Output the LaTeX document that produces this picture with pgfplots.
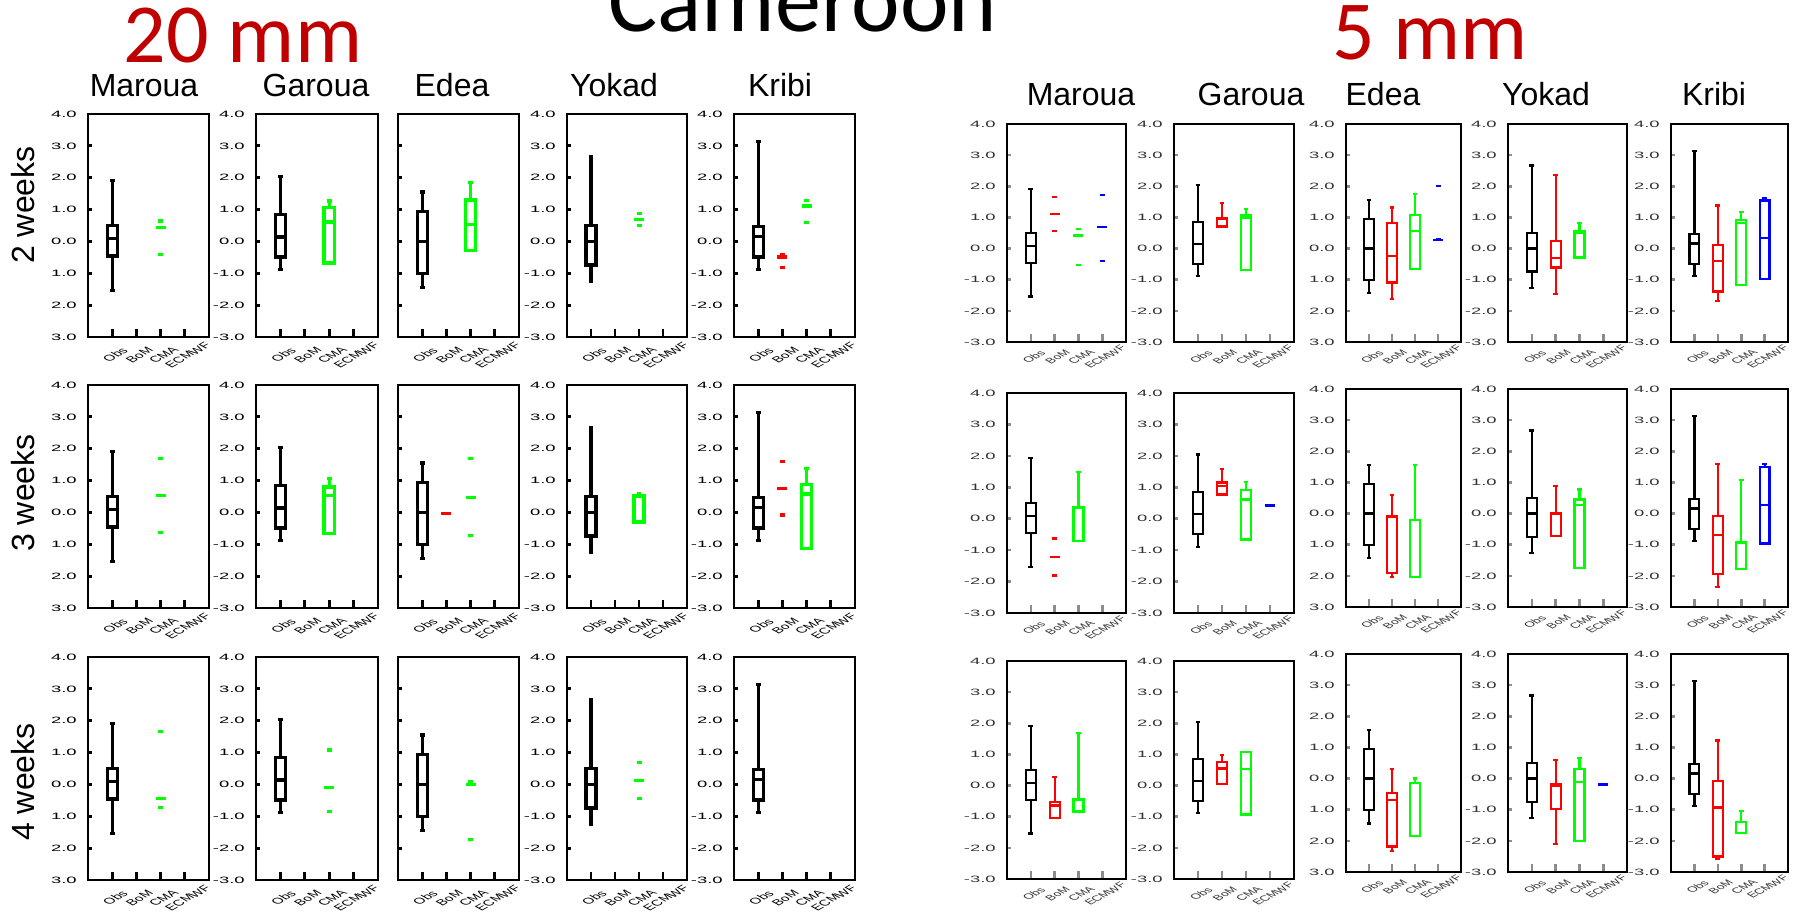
\documentclass[border=0pt]{standalone}
\usepackage{fontspec}
\setmainfont{Liberation Sans}
\newfontfamily\titlefont{Carlito}
\usepackage{graphicx}
\usepackage{pgfplots}
\pgfplotsset{compat=1.18}
\usepgfplotslibrary{statistics}

\definecolor{bom}{RGB}{255,0,0}
\definecolor{cma}{RGB}{0,255,0}
\definecolor{ecm}{RGB}{0,0,255}
\definecolor{titlered}{RGB}{192,0,0}

% stretched tick labels of the small panels
\newcommand{\xl}[1]{\scalebox{1.8}[1]{\rotatebox{45}{\fontsize{4.2}{5}\selectfont #1}}}
\newcommand{\xr}[1]{\scalebox{1.8}[1]{\rotatebox{45}{\fontsize{3.8}{4.5}\selectfont #1}}}
\newcommand{\yl}[1]{\scalebox{2}[1]{\fontsize{4.6}{5}\selectfont #1}}

% box: position, colour, lower whisker, lower quartile, median, upper quartile, upper whisker
\newcommand{\bx}[7]{\addplot[draw=#2, solid, line width=\bxw,
  boxplot prepared={draw direction=y, draw position=#1, lower whisker=#3, lower quartile=#4,
  median=#5, upper quartile=#6, upper whisker=#7}] coordinates {};}
% short and wide dashes (collapsed members)
\newcommand{\ds}[3]{\addplot[only marks, mark=-, mark size=1.25pt, draw=#2,
  mark options={line width=\bxw, solid}] coordinates {(#1,#3)};}
\newcommand{\dw}[3]{\addplot[only marks, mark=-, mark size=2.5pt, draw=#2,
  mark options={line width=\bxw, solid}] coordinates {(#1,#3)};}

\pgfplotsset{
  panel/.style={scale only axis, anchor=north west, clip=false,
    xmin=0, xmax=5, ymin=-3, ymax=4,
    xtick={1,2,3,4}, ytick={-3,-2,-1,0,1,2,3,4},
    tick align=inside, xtick pos=left, ytick pos=left,
    major tick length=2pt, xtick style={/pgfplots/major tick length=4pt},
    yticklabel style={anchor=east, inner sep=0pt, xshift=-5.5pt},
    xticklabel style={anchor=center, inner sep=0pt, xshift=1.5pt, yshift=-9pt},
    boxplot/draw direction=y,
    boxplot/box extend=0.42, boxplot/whisker extend=0.2},
  pp/.style n args={4}{at={(#1pt,#2pt)}, width=#3pt, height=#4pt},
  fulllab/.style={yticklabels={\yl{-3.0},\yl{-2.0},\yl{-1.0},\yl{0.0},\yl{1.0},\yl{2.0},\yl{3.0},\yl{4.0}}},
  cutlab/.style={yticklabels={\yl{3.0},\yl{2.0},\yl{1.0},\yl{0.0},\yl{1.0},\yl{2.0},\yl{3.0},\yl{4.0}}},
  nolab/.style={yticklabels={}},
  L/.style={panel, axis line style={line width=1.35pt},
    xticklabels={\xl{Obs},\xl{BoM},\xl{CMA},\xl{ECMWF}},
    every tick/.style={line width=1.4pt, black}},
  R/.style={panel, axis line style={line width=1pt},
    xticklabels={\xr{Obs},\xr{BoM},\xr{CMA},\xr{ECMWF}},
    every tick/.style={line width=1.3pt, black!45},
    tick label style={text=black!80},
    xticklabel style={yshift=1.5pt}},
}

\begin{document}
\begin{tikzpicture}
\useasboundingbox (0,0) rectangle (900pt,455.5pt);

% headings
\node[font=\titlefont\fontsize{46}{50}\selectfont, anchor=base] at (401.5pt,439.5pt) {Cameroon};
\node[font=\titlefont\fontsize{42}{46}\selectfont, text=titlered, anchor=base] at (121.5pt,424pt) {20 mm};
\node[font=\titlefont\fontsize{42}{46}\selectfont, text=titlered, anchor=base] at (715pt,425.5pt) {5 mm};

\begin{scope}[every node/.style={font=\fontsize{16}{18}\selectfont, anchor=base}]
\node at (72pt,407pt) {Maroua};
\node at (158pt,407pt) {Garoua};
\node at (226pt,407pt) {Edea};
\node at (307pt,407pt) {Yokad};
\node at (390pt,407pt) {Kribi};
\node at (540.5pt,402.5pt) {Maroua};
\node at (625.5pt,402.5pt) {Garoua};
\node at (691.5pt,402.5pt) {Edea};
\node at (773pt,402.5pt) {Yokad};
\node at (857pt,402.5pt) {Kribi};
\end{scope}
\node[rotate=90, font=\fontsize{16}{18}\selectfont] at (11.75pt,353pt) {2 weeks};
\node[rotate=90, font=\fontsize{16}{18}\selectfont] at (11.75pt,209pt) {3 weeks};
\node[rotate=90, font=\fontsize{16}{18}\selectfont] at (11.75pt,64.5pt) {4 weeks};

%================ 20 mm ================
\def\bxw{1.6pt}
% ---- 2 weeks ----
\begin{axis}[L, cutlab, pp={44}{398.5}{60.5}{111.5}]
\bx{1}{black}{-1.54}{-0.46}{0.09}{0.49}{1.92}
\ds{3}{cma}{0.64}\dw{3}{cma}{0.43}\ds{3}{cma}{-0.42}
\end{axis}
\begin{axis}[L, fulllab, pp={128}{398.5}{61}{111.5}]
\bx{1}{black}{-0.89}{-0.49}{0.14}{0.85}{2.04}
\bx{3}{cma}{-0.68}{-0.68}{0.61}{1.07}{1.27}
\end{axis}
\begin{axis}[L, nolab, pp={199}{398.5}{60.5}{111.5}]
\bx{1}{black}{-1.44}{-1.0}{0.0}{0.95}{1.55}
\bx{3}{cma}{-0.29}{-0.29}{0.52}{1.30}{1.86}
\end{axis}
\begin{axis}[L, fulllab, pp={283.5}{398.5}{60}{111.5}]
\bx{1}{black}{-1.26}{-0.74}{0.0}{0.50}{2.67}
\ds{3}{cma}{0.87}\dw{3}{cma}{0.70}\ds{3}{cma}{0.51}
\end{axis}
\begin{axis}[L, fulllab, pp={367}{398.5}{60.5}{111.5}]
\bx{1}{black}{-0.89}{-0.49}{0.16}{0.48}{3.13}
\ds{2}{bom}{-0.41}\dw{2}{bom}{-0.49}\ds{2}{bom}{-0.83}
\ds{3}{cma}{1.29}\dw{3}{cma}{1.11}\ds{3}{cma}{0.59}
\end{axis}
% ---- 3 weeks ----
\begin{axis}[L, cutlab, pp={44}{263}{60.5}{111.5}]
\bx{1}{black}{-1.54}{-0.46}{0.09}{0.49}{1.92}
\ds{3}{cma}{1.68}\dw{3}{cma}{0.52}\ds{3}{cma}{-0.62}
\end{axis}
\begin{axis}[L, fulllab, pp={128}{263}{61}{111.5}]
\bx{1}{black}{-0.89}{-0.49}{0.14}{0.85}{2.04}
\bx{3}{cma}{-0.66}{-0.66}{0.54}{0.80}{1.07}
\end{axis}
\begin{axis}[L, nolab, pp={199}{263}{60.5}{111.5}]
\bx{1}{black}{-1.44}{-1.0}{0.0}{0.95}{1.55}
\dw{2}{bom}{-0.03}
\ds{3}{cma}{1.70}\dw{3}{cma}{0.48}\ds{3}{cma}{-0.73}
\end{axis}
\begin{axis}[L, fulllab, pp={283.5}{263}{60}{111.5}]
\bx{1}{black}{-1.26}{-0.74}{0.0}{0.50}{2.67}
\bx{3}{cma}{-0.30}{-0.30}{0.50}{0.52}{0.58}
\end{axis}
\begin{axis}[L, fulllab, pp={367}{263}{60.5}{111.5}]
\bx{1}{black}{-0.89}{-0.49}{0.16}{0.48}{3.13}
\ds{2}{bom}{1.60}\dw{2}{bom}{0.76}\ds{2}{bom}{-0.08}
\bx{3}{cma}{-1.13}{-1.13}{0.58}{0.88}{1.38}
\end{axis}
% ---- 4 weeks ----
\begin{axis}[L, cutlab, pp={44}{127}{60.5}{111.5}]
\bx{1}{black}{-1.54}{-0.46}{0.09}{0.49}{1.92}
\ds{3}{cma}{1.65}\dw{3}{cma}{-0.43}\ds{3}{cma}{-0.72}
\end{axis}
\begin{axis}[L, fulllab, pp={128}{127}{61}{111.5}]
\bx{1}{black}{-0.89}{-0.49}{0.14}{0.85}{2.04}
\ds{3}{cma}{1.08}\dw{3}{cma}{-0.09}\ds{3}{cma}{-0.85}
\end{axis}
\begin{axis}[L, nolab, pp={199}{127}{60.5}{111.5}]
\bx{1}{black}{-1.44}{-1.0}{0.0}{0.95}{1.55}
\ds{3}{cma}{0.09}\dw{3}{cma}{-0.01}\ds{3}{cma}{-1.74}
\end{axis}
\begin{axis}[L, fulllab, pp={283.5}{127}{60}{111.5}]
\bx{1}{black}{-1.26}{-0.74}{0.0}{0.50}{2.67}
\ds{3}{cma}{0.68}\dw{3}{cma}{0.13}\ds{3}{cma}{-0.44}
\end{axis}
\begin{axis}[L, fulllab, pp={367}{127}{60.5}{111.5}]
\bx{1}{black}{-0.89}{-0.49}{0.16}{0.48}{3.13}
\end{axis}

%================ 5 mm ================
\def\bxw{1.1pt}
% ---- 2 weeks ----
\begin{axis}[R, fulllab, pp={503.5}{393.5}{59.5}{109}]
\bx{1}{black}{-1.54}{-0.46}{0.09}{0.49}{1.92}
\ds{2}{bom}{1.66}\dw{2}{bom}{1.11}\ds{2}{bom}{0.56}
\ds{3}{cma}{0.64}\dw{3}{cma}{0.42}\ds{3}{cma}{-0.52}
\ds{4}{ecm}{1.73}\dw{4}{ecm}{0.68}\ds{4}{ecm}{-0.40}
\end{axis}
\begin{axis}[R, fulllab, pp={587}{393.5}{60}{109}]
\bx{1}{black}{-0.89}{-0.49}{0.14}{0.85}{2.04}
\bx{2}{bom}{0.71}{0.71}{0.95}{0.97}{1.46}
\bx{3}{cma}{-0.68}{-0.68}{1.00}{1.06}{1.27}
\end{axis}
\begin{axis}[R, cutlab, pp={673}{393.5}{57.5}{109}]
\bx{1}{black}{-1.44}{-1.0}{0.0}{0.95}{1.55}
\bx{2}{bom}{-1.62}{-1.09}{-0.23}{0.81}{1.32}
\bx{3}{cma}{-0.65}{-0.65}{0.57}{1.08}{1.74}
\ds{4}{ecm}{2.01}\dw{4}{ecm}{0.27}\ds{4}{ecm}{0.31}
\end{axis}
\begin{axis}[R, fulllab, pp={754}{393.5}{59.5}{109}]
\bx{1}{black}{-1.26}{-0.74}{0.0}{0.50}{2.67}
\bx{2}{bom}{-1.45}{-0.61}{-0.30}{0.23}{2.35}
\bx{3}{cma}{-0.29}{-0.29}{0.50}{0.56}{0.81}
\end{axis}
\begin{axis}[R, fulllab, pp={835.5}{393.5}{58.5}{109}]
\bx{1}{black}{-0.89}{-0.49}{0.16}{0.48}{3.13}
\bx{2}{bom}{-1.69}{-1.38}{-0.40}{0.11}{1.38}
\bx{3}{cma}{-1.16}{-1.16}{0.81}{0.91}{1.18}
\bx{4}{ecm}{-0.97}{-0.97}{0.33}{1.54}{1.61}
\end{axis}
% ---- 3 weeks ----
\begin{axis}[R, fulllab, pp={503.5}{259}{59.5}{110}]
\bx{1}{black}{-1.54}{-0.46}{0.09}{0.49}{1.92}
\ds{2}{bom}{-0.63}\dw{2}{bom}{-1.22}\ds{2}{bom}{-1.81}
\bx{3}{cma}{-0.71}{-0.71}{0.35}{0.37}{1.48}
\end{axis}
\begin{axis}[R, fulllab, pp={587}{259}{60}{110}]
\bx{1}{black}{-0.89}{-0.49}{0.14}{0.85}{2.04}
\bx{2}{bom}{0.77}{0.77}{1.03}{1.15}{1.59}
\bx{3}{cma}{-0.66}{-0.66}{0.61}{0.92}{1.18}
\dw{4}{ecm}{0.42}
\end{axis}
\begin{axis}[R, cutlab, pp={673}{261}{57.5}{109}]
\bx{1}{black}{-1.44}{-1.0}{0.0}{0.95}{1.55}
\bx{2}{bom}{-2.05}{-1.91}{-0.10}{-0.07}{0.59}
\bx{3}{cma}{-2.03}{-2.03}{-0.21}{-0.21}{1.57}
\end{axis}
\begin{axis}[R, fulllab, pp={754}{261}{59.5}{109}]
\bx{1}{black}{-1.26}{-0.74}{0.0}{0.50}{2.67}
\bx{2}{bom}{-0.72}{-0.72}{0.0}{0.02}{0.89}
\bx{3}{cma}{-1.75}{-1.75}{0.27}{0.45}{0.77}
\end{axis}
\begin{axis}[R, fulllab, pp={835.5}{261}{58.5}{109}]
\bx{1}{black}{-0.89}{-0.49}{0.16}{0.48}{3.13}
\bx{2}{bom}{-2.36}{-1.95}{-0.70}{-0.09}{1.58}
\bx{3}{cma}{-1.79}{-1.79}{-0.93}{-0.91}{1.09}
\bx{4}{ecm}{-0.96}{-0.96}{0.27}{1.50}{1.58}
\end{axis}
% ---- 4 weeks ----
\begin{axis}[R, fulllab, pp={503.5}{125}{59.5}{109}]
\bx{1}{black}{-1.54}{-0.46}{0.09}{0.49}{1.92}
\bx{2}{bom}{-1.04}{-1.04}{-0.64}{-0.53}{0.27}
\bx{3}{cma}{-0.83}{-0.83}{-0.45}{-0.42}{1.68}
\end{axis}
\begin{axis}[R, fulllab, pp={587}{125}{60}{109}]
\bx{1}{black}{-0.89}{-0.49}{0.14}{0.85}{2.04}
\bx{2}{bom}{0.05}{0.05}{0.55}{0.76}{0.99}
\bx{3}{cma}{-0.93}{-0.93}{0.53}{1.08}{1.09}
\end{axis}
\begin{axis}[R, cutlab, pp={673}{128.5}{57.5}{109}]
\bx{1}{black}{-1.44}{-1.0}{0.0}{0.95}{1.55}
\bx{2}{bom}{-2.32}{-2.18}{-0.69}{-0.47}{0.30}
\bx{3}{cma}{-1.84}{-1.84}{-0.13}{-0.13}{0.0}
\end{axis}
\begin{axis}[R, fulllab, pp={754}{128.5}{59.5}{109}]
\bx{1}{black}{-1.26}{-0.74}{0.0}{0.50}{2.67}
\bx{2}{bom}{-2.10}{-0.98}{-0.22}{-0.18}{0.60}
\bx{3}{cma}{-2.00}{-2.00}{-0.11}{0.30}{0.65}
\dw{4}{ecm}{-0.19}
\end{axis}
\begin{axis}[R, fulllab, pp={835.5}{128.5}{58.5}{109}]
\bx{1}{black}{-0.89}{-0.49}{0.16}{0.48}{3.13}
\bx{2}{bom}{-2.59}{-2.50}{-0.93}{-0.07}{1.22}
\bx{3}{cma}{-1.75}{-1.75}{-1.40}{-1.39}{-1.04}
\end{axis}
\end{tikzpicture}
\end{document}
